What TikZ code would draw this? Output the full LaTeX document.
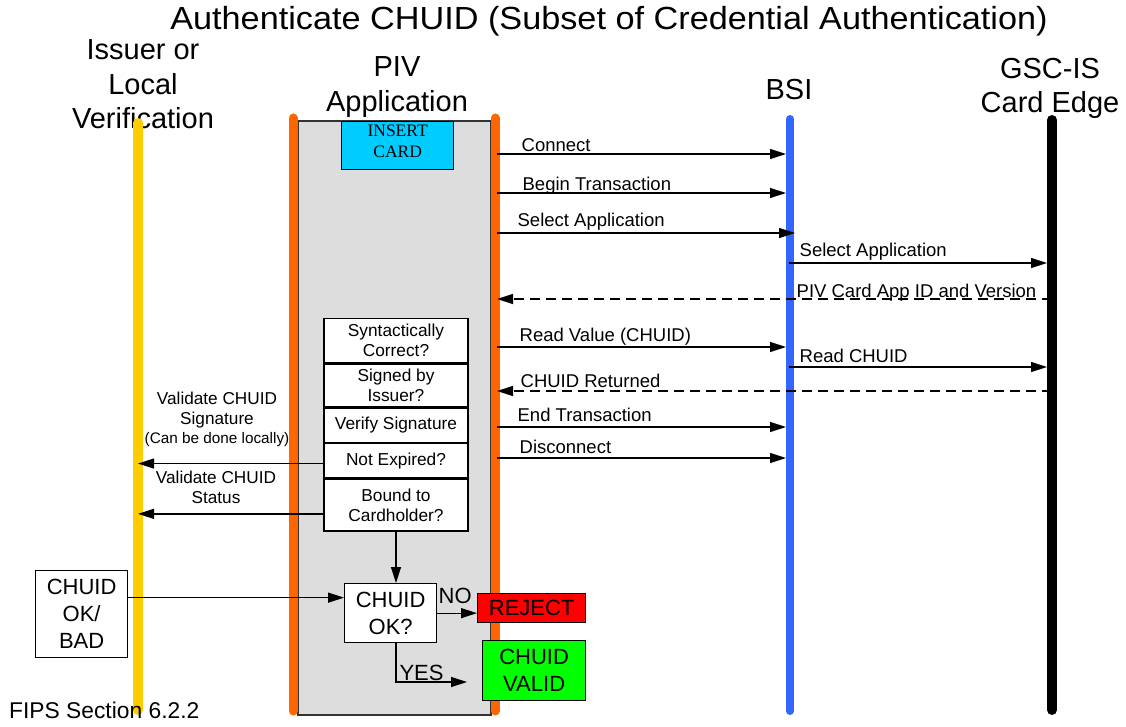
\documentclass[tikz,border=0pt]{standalone}
\usepackage{fontspec}
\usepackage{graphicx}
\setmainfont{Liberation Sans}
\newfontfamily\cardserif{Liberation Serif}
\usetikzlibrary{arrows.meta}

\definecolor{lifeyellow}{HTML}{FFCC00}
\definecolor{lifeorange}{HTML}{FF6600}
\definecolor{lifeblue}{HTML}{3366FF}
\definecolor{appgray}{HTML}{DDDDDD}
\definecolor{cardcyan}{HTML}{00CCFF}
\definecolor{rejectred}{HTML}{FF0000}
\definecolor{validgreen}{HTML}{00FF00}

\newcommand\fs[2]{\fontsize{#1}{#2}\selectfont}

\begin{document}
\begin{tikzpicture}[x=1pt,y=-1pt,
  lifeline/.style={line width=#1pt, line cap=round},
  head/.style={font=\fs{29}{34.5}, align=center, anchor=north, inner sep=0pt},
  msg/.style={line width=1.3pt, -{Triangle[length=16pt,width=10pt]}},
  reply/.style={msg, dash pattern=on 10pt off 6pt},
  msglabel/.style={font=\fs{18.5}{22}, anchor=base west, inner sep=0pt},
  check/.style={draw, line width=1.3pt, fill=white, minimum width=144pt,
    inner sep=0pt, align=center, font=\fs{17.3}{20}, anchor=north},
  bigbox/.style={draw, line width=1.3pt, inner sep=0pt, align=center,
    font=\fs{22}{27}, anchor=north west},
  sidelabel/.style={font=\fs{17.2}{20}, align=center, anchor=north, inner sep=0pt}]

\useasboundingbox (0,0) rectangle (1126,727);
\fill[white] (0,0) rectangle (1126,727);

% title
\node[font=\fs{32}{38}, anchor=north, inner sep=0pt] (title) at (609,6.5)
  {\scalebox{1.07}[1]{Authenticate CHUID (Subset of Credential Authentication)}};

% participant headings
\node[head] (hiss) at (143,39.5) {Issuer or\\Local\\Verification};
\node[head] (hpiv) at (397,56.5) {PIV\\Application};
\node[head] (hbsi) at (789,79) {BSI};
\node[head] (hcard) at (1050,58) {GSC-IS\\Card Edge};

% PIV application activation area
\draw[fill=appgray, draw=black!80, line width=1.5pt] (298,121) rectangle (491,715);

% lifelines
\draw[lifeline=10, lifeyellow] (138,123) -- (138,710);
\draw[lifeline=9, lifeorange] (293,118) -- (293,711);
\draw[lifeline=9, lifeorange] (495,118) -- (495,711);
\draw[lifeline=8, lifeblue] (790,119) -- (790,711);
\draw[lifeline=10, black] (1052,120) -- (1052,710);

\coordinate (issC) at (138,123);
\coordinate (pivR) at (497,118);
\coordinate (bsiL) at (786,119);
\coordinate (bsiC) at (789,119);
\coordinate (bsiR) at (795,119);
\coordinate (cardL) at (1047,120);
\coordinate (cardC) at (1052,120);

% card insertion
\node[draw, fill=cardcyan, line width=1.3pt, minimum width=112pt, minimum height=48pt,
  inner sep=0pt, anchor=north west, align=center, text depth=8pt,
  font=\cardserif\fs{17.5}{21}]
  (insert) at (341,121) {INSERT\\CARD};

% messages between PIV application, BSI and card edge
\draw[msg] (pivR |- 0,154) -- (bsiL |- 0,154)
  node[msglabel, pos=0, xshift=24pt, yshift=2pt] (mconnect) {Connect};
\draw[msg] (pivR |- 0,193) -- (bsiL |- 0,193)
  node[msglabel, pos=0, xshift=25pt, yshift=2pt] (mbegin) {Begin Transaction};
\draw[msg] (pivR |- 0,233) -- (bsiR |- 0,233)
  node[msglabel, pos=0, xshift=20pt, yshift=6pt] (mselect) {Select Application};
\draw[msg] (bsiC |- 0,263) -- (cardL |- 0,263)
  node[msglabel, pos=0, xshift=10pt, yshift=6pt] (mselectcard) {Select Application};
\draw[reply] (cardC |- 0,299) -- (pivR |- 0,299)
  node[msglabel, pos=1, xshift=299pt, yshift=2pt] (mappid) {PIV Card App ID and Version};
\draw[msg] (pivR |- 0,347) -- (bsiL |- 0,347)
  node[msglabel, pos=0, xshift=22pt, yshift=6pt] (mread) {Read Value (CHUID)};
\draw[msg] (bsiC |- 0,367) -- (cardL |- 0,367)
  node[msglabel, pos=0, xshift=10pt, yshift=5pt] (mreadcard) {Read CHUID};
\draw[reply] (cardC |- 0,391) -- (pivR |- 0,391)
  node[msglabel, pos=1, xshift=23pt, yshift=4pt] (mreturned) {CHUID Returned};
\draw[msg] (pivR |- 0,427) -- (bsiL |- 0,427)
  node[msglabel, pos=0, xshift=20pt, yshift=6pt] (mend) {End Transaction};
\draw[msg] (pivR |- 0,458) -- (bsiL |- 0,458)
  node[msglabel, pos=0, xshift=22pt, yshift=5pt] (mdisc) {Disconnect};

% credential checks
\node[check, minimum height=44pt] (syn) at (396,318) {Syntactically\\Correct?};
\node[check, minimum height=43pt] (sig) at (syn.south) {Signed by\\Issuer?};
\node[check, minimum height=34pt] (ver) at (sig.south) {Verify Signature};
\node[check, minimum height=34pt] (exp) at (ver.south) {Not Expired?};
\node[check, minimum height=52pt] (bnd) at (exp.south) {Bound to\\Cardholder?};

% requests to the issuer
\coordinate (sigout) at ([yshift=-3pt]exp.west);
\coordinate (statout) at ([yshift=-9pt]bnd.west);
\draw[msg] (sigout) -- (sigout -| issC);
\draw[msg] (statout) -- (statout -| issC);
\node[sidelabel] (sigtxt) at (217,392)
  {Validate CHUID\\Signature\\[-1pt]{\fs{15.3}{17}(Can be done locally)}};
\node[sidelabel] (stattxt) at (216,471) {Validate CHUID\\Status};

% decision
\node[bigbox, minimum width=92pt, minimum height=87pt] (okbad) at (35,570) {CHUID\\OK/\\BAD};
\node[bigbox, fill=white, minimum width=92pt, minimum height=59pt] (okq) at (344,583) {CHUID\\OK?};
\node[bigbox, fill=rejectred, minimum width=108pt, minimum height=29pt] (reject) at (477,593) {REJECT};
\node[bigbox, fill=validgreen, minimum width=103pt, minimum height=60pt] (valid) at (482,640) {CHUID\\VALID};

\coordinate (okin) at ([yshift=16.5pt]okbad.east);
\draw[msg] (okin) -- (okin -| okq.west);
\draw[msg] (bnd.south) -- (bnd.south |- okq.north);
\draw[msg] (okq.east) -- (okq.east -| reject.west)
  node[midway, anchor=base, yshift=9.5pt, xshift=-2pt, inner sep=0pt, font=\fs{22}{27}] (nolab) {NO};
\coordinate (yesstart) at (bnd.south |- okq.south);
\coordinate (yesend) at (467,682);
\draw[msg] (yesstart) |- (yesend)
  node[pos=0.68, anchor=base, yshift=2pt, inner sep=0pt, font=\fs{22}{27}] (yeslab) {YES};

% reference
\node[font=\fs{22.8}{27}, anchor=base west, inner sep=0pt] (fips) at (9,718) {FIPS Section 6.2.2};

\end{tikzpicture}
\end{document}
